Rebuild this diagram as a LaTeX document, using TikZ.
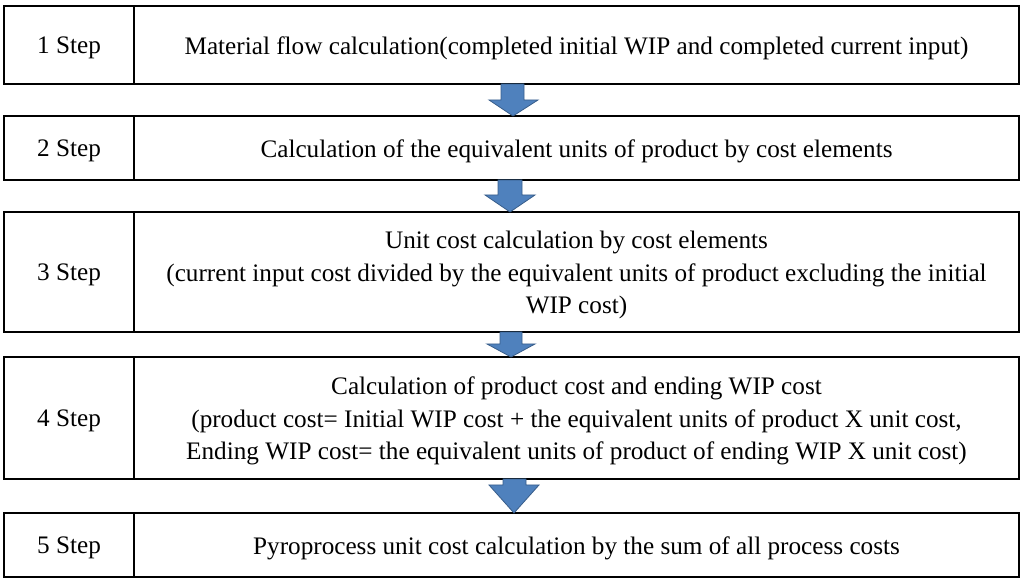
\documentclass[tikz,border=0pt]{standalone}
\usepackage{fontspec}
\setmainfont{Liberation Serif}
\usetikzlibrary{calc}
\definecolor{arrowfill}{HTML}{4F81BD}
\definecolor{arrowline}{HTML}{385D8A}
\tikzset{
  stepcell/.style={draw=black, line width=1.6pt, rectangle, outer sep=0pt, inner sep=0pt,
    minimum width=130pt, anchor=west},
  textcell/.style={draw=black, line width=1.6pt, rectangle, outer sep=0pt, inner sep=0pt,
    minimum width=885pt, anchor=west},
  celltext/.style={align=center, inner sep=0pt, font=\fontsize{25.2}{32.5}\selectfont, yshift=-3pt},
  blockarrow/.style={fill=arrowfill, draw=arrowline, line width=0.8pt, line join=miter}
}
\begin{document}
\begin{tikzpicture}[x=1pt,y=1pt]
\useasboundingbox (0,0) rectangle (1024,585);
% row 1 : y 6..84
\node[stepcell, minimum height=78pt] (s1) at (4,540) {};
\node[textcell, minimum height=78pt] (b1) at (134,540) {};
\node[celltext] (s1t) at (s1.center) {1 Step};
\node[celltext] (b1t) at (b1.center) {Material flow calculation(completed initial WIP and completed current input)};
% row 2 : y 116..180
\node[stepcell, minimum height=64pt] (s2) at (4,437) {};
\node[textcell, minimum height=64pt] (b2) at (134,437) {};
\node[celltext] (s2t) at (s2.center) {2 Step};
\node[celltext] (b2t) at (b2.center) {Calculation of the equivalent units of product by cost elements};
% row 3 : y 212..332
\node[stepcell, minimum height=120pt] (s3) at (4,313) {};
\node[textcell, minimum height=120pt] (b3) at (134,313) {};
\node[celltext] (s3t) at (s3.center) {3 Step};
\node[celltext] (b3t) at (b3.center) {Unit cost calculation by cost elements\\(current input cost divided by the equivalent units of product excluding the initial\\WIP cost)};
% row 4 : y 357..479
\node[stepcell, minimum height=122pt] (s4) at (4,167) {};
\node[textcell, minimum height=122pt] (b4) at (134,167) {};
\node[celltext] (s4t) at (s4.center) {4 Step};
\node[celltext] (b4t) at (b4.center) {Calculation of product cost and ending WIP cost\\(product cost= Initial WIP cost + the equivalent units of product X unit cost,\\Ending WIP cost= the equivalent units of product of ending WIP X unit cost)};
% row 5 : y 513..577
\node[stepcell, minimum height=64pt] (s5) at (4,40) {};
\node[textcell, minimum height=64pt] (b5) at (134,40) {};
\node[celltext] (s5t) at (s5.center) {5 Step};
\node[celltext] (b5t) at (b5.center) {Pyroprocess unit cost calculation by the sum of all process costs};
% block arrows
\draw[blockarrow] let \p1=(b1.south), \p2=(b2.north) in
  (501pt,\y1) -- (524pt,\y1) -- (524pt,\y2+16pt) -- (538pt,\y2+16pt) -- (513pt,\y2) -- (489pt,\y2+16pt) -- (501pt,\y2+16pt) -- cycle;
\draw[blockarrow] let \p1=(b2.south), \p2=(b3.north) in
  (498pt,\y1) -- (522pt,\y1) -- (522pt,\y2+17pt) -- (535pt,\y2+17pt) -- (510pt,\y2) -- (485pt,\y2+17pt) -- (498pt,\y2+17pt) -- cycle;
\draw[blockarrow] let \p1=(b3.south), \p2=(b4.north) in
  (500pt,\y1) -- (522pt,\y1) -- (522pt,\y2+13pt) -- (535pt,\y2+13pt) -- (511pt,\y2) -- (487pt,\y2+13pt) -- (500pt,\y2+13pt) -- cycle;
\draw[blockarrow] let \p1=(b4.south), \p2=(b5.north) in
  (503pt,\y1) -- (526pt,\y1) -- (526pt,\y2+28pt) -- (539pt,\y2+28pt) -- (514pt,\y2) -- (489pt,\y2+28pt) -- (503pt,\y2+28pt) -- cycle;
\end{tikzpicture}
\end{document}
